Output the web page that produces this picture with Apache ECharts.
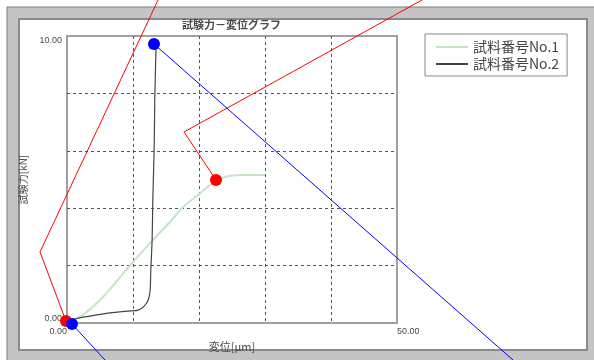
<!DOCTYPE html>
<html>
<head>
<meta charset="utf-8">
<script src="https://cdn.jsdelivr.net/npm/echarts@6/dist/echarts.min.js"></script>
<style>
html, body { margin: 0; padding: 0; background: #fff; }
#main { width: 594px; height: 360px; }
</style>
</head>
<body>
<div id="main"></div>
<script>
// 目盛り
const xMin = 0
const xMax = 50
const yMin = 0
const yMax = 10
const xTickLabels = ['0.00', '', '', '', '', '50.00']
const yTickLabels = ['0.00', '', '', '', '', '10.00']

// 試料番号No.1 (変位, 試験力)
const no1X = [0, 2.4, 5.0, 7.3, 9.6, 13.0, 15.6, 17.6, 20.2, 22.1, 23.9, 26.2, 30.0]
const no1Y = [0, 0.28, 0.80, 1.39, 2.02, 2.89, 3.52, 4.04, 4.53, 4.88, 5.09, 5.16, 5.16]

// 試料番号No.2
const no2X = [0, 1.2, 3.5, 6.5, 9.5, 10.8, 11.7, 12.3, 12.6, 12.7, 12.9, 13.0, 13.2, 13.3, 13.5]
const no2Y = [0, 0.14, 0.24, 0.35, 0.42, 0.45, 0.59, 0.80, 1.15, 1.85, 2.9, 4.3, 6.0, 7.8, 9.7]

// 注記の線 (画面座標)
const red1X = [158, 40, 66]
const red1Y = [0, 252, 321]
const red2X = [422, 184, 216]
const red2Y = [0, 132, 180]
const blue1X = [513, 154]
const blue1Y = [360, 44]
const blue2X = [105, 72]
const blue2Y = [360, 324]

const zip = (a, b) => a.map((v, i) => [v, b[i]])
const lastPoint = (a, b) => [[a[a.length - 1], b[b.length - 1]]]

const myChart = echarts.init(document.getElementById('main'))
const textColor = '#4a4a4a'
const font = '"Noto Sans CJK JP", sans-serif'

const annoLine = (name, xs, ys, color) => ({
  name: name,
  type: 'line',
  xAxisIndex: 1,
  yAxisIndex: 1,
  data: zip(xs, ys),
  symbol: 'none',
  clip: false,
  silent: true,
  z: 10,
  lineStyle: { color: color, width: 1 }
})
const annoDot = (name, xs, ys, color) => ({
  name: name,
  type: 'scatter',
  xAxisIndex: 1,
  yAxisIndex: 1,
  data: lastPoint(xs, ys),
  symbolSize: 12,
  clip: false,
  silent: true,
  z: 11,
  itemStyle: { color: color, opacity: 1 }
})

const option = {
  backgroundColor: '#fff',
  animation: false,
  graphic: [
    {
      type: 'rect',
      z: -10,
      shape: { x: 7, y: 7, width: 590, height: 356 },
      style: { fill: '#c4c4c4', stroke: '#7a7a7a', lineWidth: 1 }
    },
    {
      type: 'rect',
      z: -9,
      shape: { x: 19, y: 19, width: 568, height: 331 },
      style: { fill: '#fff', stroke: '#8a8a8a', lineWidth: 2 }
    }
  ],
  title: {
    text: '試験力－変位グラフ',
    left: 182,
    top: 19,
    padding: 0,
    textStyle: { fontSize: 11, fontWeight: 'bold', color: textColor, fontFamily: font }
  },
  legend: {
    orient: 'vertical',
    left: 425,
    top: 34,
    itemWidth: 32,
    itemHeight: 14,
    itemGap: 3,
    padding: [6, 8, 5, 10],
    borderColor: '#888',
    borderWidth: 1,
    backgroundColor: '#fff',
    itemStyle: { opacity: 0 },
    data: ['試料番号No.1', '試料番号No.2'],
    textStyle: { fontSize: 14, color: '#444', fontFamily: font }
  },
  grid: [
    {
      left: 67,
      top: 36,
      width: 330,
      height: 287,
      show: true,
      borderColor: '#a0a0a0',
      borderWidth: 2
    },
    { left: 0, top: 0, width: 594, height: 360 }
  ],
  xAxis: [
    {
      type: 'value',
      min: xMin,
      max: xMax,
      interval: 10,
      name: '変位[μm]',
      nameLocation: 'middle',
      nameGap: 12,
      nameTextStyle: { fontSize: 11, color: textColor, fontFamily: font },
      axisLine: { show: false },
      axisTick: { show: false },
      axisLabel: {
        fontSize: 9,
        color: textColor,
        margin: 4,
        alignMinLabel: 'right',
        alignMaxLabel: 'left',
        formatter: (v) => xTickLabels[Math.round((v - xMin) / 10)]
      },
      splitLine: {
        showMinLine: false,
        showMaxLine: false,
        lineStyle: { color: '#555', type: [3, 3], width: 1 }
      }
    },
    { gridIndex: 1, type: 'value', min: 0, max: 594, show: false }
  ],
  yAxis: [
    {
      type: 'value',
      min: yMin,
      max: yMax,
      interval: 2,
      name: '試験力[kN]',
      nameLocation: 'middle',
      nameGap: 33,
      nameTextStyle: { fontSize: 10, color: textColor, fontFamily: font },
      axisLine: { show: false },
      axisTick: { show: false },
      axisLabel: {
        fontSize: 9,
        color: textColor,
        margin: 5,
        verticalAlignMinLabel: 'bottom',
        verticalAlignMaxLabel: 'top',
        formatter: (v) => yTickLabels[Math.round((v - yMin) / 2)]
      },
      splitLine: {
        showMinLine: false,
        showMaxLine: false,
        lineStyle: { color: '#555', type: [3, 3], width: 1 }
      }
    },
    { gridIndex: 1, type: 'value', min: 0, max: 360, inverse: true, show: false }
  ],
  series: [
    {
      name: '試料番号No.1',
      type: 'line',
      data: zip(no1X, no1Y),
      smooth: 0.3,
      symbol: 'none',
      color: '#c6e4c6',
      lineStyle: { color: '#c6e4c6', width: 2 }
    },
    {
      name: '試料番号No.2',
      type: 'line',
      data: zip(no2X, no2Y),
      smooth: 0.2,
      symbol: 'none',
      color: '#444',
      lineStyle: { color: '#444', width: 1.2 }
    },
    annoLine('red1', red1X, red1Y, '#ff0000'),
    annoLine('red2', red2X, red2Y, '#ff0000'),
    annoLine('blue1', blue1X, blue1Y, '#0000ff'),
    annoLine('blue2', blue2X, blue2Y, '#0000ff'),
    annoDot('red1dot', red1X, red1Y, '#ff0000'),
    annoDot('red2dot', red2X, red2Y, '#ff0000'),
    annoDot('blue1dot', blue1X, blue1Y, '#0000ff'),
    annoDot('blue2dot', blue2X, blue2Y, '#0000ff')
  ]
}
option && myChart.setOption(option)
</script>
</body>
</html>
